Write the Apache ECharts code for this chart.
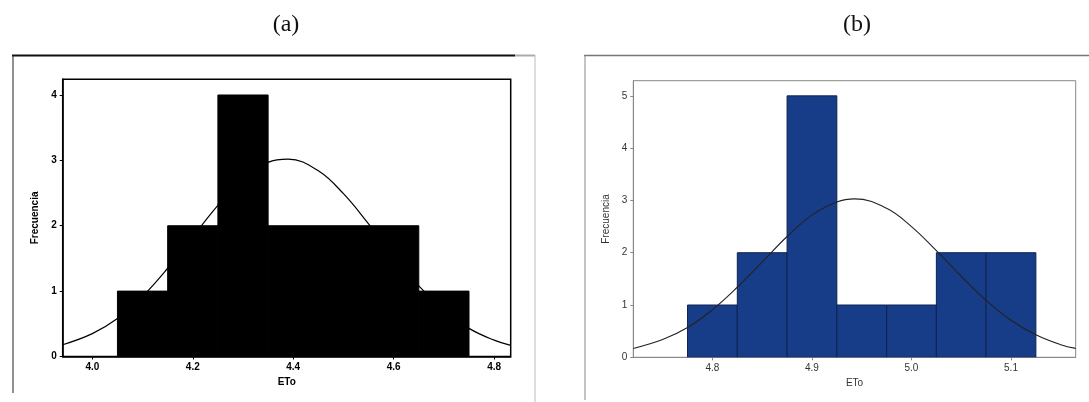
<!DOCTYPE html>
<html><head><meta charset="utf-8">
<script src="https://cdn.jsdelivr.net/npm/echarts@6/dist/echarts.min.js"></script>
<style>html,body{margin:0;padding:0;background:#fff}#c{width:1089px;height:402px}</style>
</head><body><div id="c"></div>
<script>
// ---- Panel (a) data ----
const binEdgesA = [4.05, 4.15, 4.25, 4.35, 4.45, 4.55, 4.65, 4.75];
const countsA   = [1, 2, 4, 2, 2, 2, 1];
const curveAx   = [3.941, 4.00, 4.05, 4.10, 4.15, 4.20, 4.25, 4.30, 4.35, 4.39, 4.45, 4.50, 4.55, 4.60, 4.65, 4.70, 4.75, 4.80, 4.833];
const curveAy   = [0.18, 0.35, 0.58, 0.92, 1.35, 1.83, 2.31, 2.72, 2.97, 3.02, 2.84, 2.49, 2.03, 1.54, 1.08, 0.71, 0.43, 0.25, 0.17];
const xTicksA   = [4.0, 4.2, 4.4, 4.6, 4.8];
const yTicksA   = [0, 1, 2, 3, 4];
// ---- Panel (b) data ----
const binEdgesB = [4.775, 4.825, 4.875, 4.925, 4.975, 5.025, 5.075, 5.125];
const countsB   = [1, 2, 5, 1, 1, 2, 2];
const curveBx   = [4.7205, 4.75, 4.775, 4.80, 4.825, 4.85, 4.875, 4.90, 4.925, 4.943, 4.975, 5.00, 5.025, 5.05, 5.075, 5.10, 5.125, 5.15, 5.165];
const curveBy   = [0.17, 0.34, 0.57, 0.91, 1.34, 1.82, 2.31, 2.72, 2.97, 3.03, 2.85, 2.50, 2.04, 1.55, 1.09, 0.71, 0.43, 0.24, 0.17];
const xTicksB   = [4.8, 4.9, 5.0, 5.1];
const yTicksB   = [0, 1, 2, 3, 4, 5];
const titles    = ['(a)', '(b)'];
const xName = 'ETo', yName = 'Frecuencia';

const bins = (edges, counts) => counts.map((c, i) => [edges[i], edges[i + 1], c]);
const pts = (xs, ys) => xs.map((x, i) => [x, ys[i]]);

function histItem(fill, stroke) {
  return function (params, api) {
    const p0 = api.coord([api.value(0), 0]);
    const p1 = api.coord([api.value(1), api.value(2)]);
    return {
      type: 'rect',
      shape: { x: p0[0], y: p1[1], width: p1[0] - p0[0], height: p0[1] - p1[1] },
      style: { fill: fill, stroke: stroke, lineWidth: 1 }
    };
  };
}

const fontA = { fontFamily: 'Liberation Sans', fontSize: 10, fontWeight: 'bold', color: '#000' };
const fontB = { fontFamily: 'Liberation Sans', fontSize: 10, color: '#333' };

const chart = echarts.init(document.getElementById('c'), null, { renderer: 'canvas' });
chart.setOption({
  animation: false,
  backgroundColor: '#fff',
  title: [
    { text: titles[0], left: 281, top: 8, textAlign: 'center',
      textStyle: { fontFamily: 'Liberation Serif', fontSize: 24, fontWeight: 'normal', color: '#111' } },
    { text: titles[1], left: 852, top: 8, textAlign: 'center',
      textStyle: { fontFamily: 'Liberation Serif', fontSize: 24, fontWeight: 'normal', color: '#111' } }
  ],
  grid: [
    { left: 62.7, top: 79.3, width: 448, height: 277.2, show: true, borderColor: '#000', borderWidth: 1.5, backgroundColor: 'transparent' },
    { left: 633.3, top: 80.7, width: 442.4, height: 276.6, show: true, borderColor: '#888', borderWidth: 1, backgroundColor: 'transparent' }
  ],
  xAxis: [
    { gridIndex: 0, type: 'value', min: 3.941, max: 4.833,
      name: xName, nameLocation: 'middle', nameGap: 20, nameTextStyle: fontA,
      axisLine: { show: true, lineStyle: { color: '#000', width: 1.5 } },
      axisTick: { show: true, length: 3, customValues: xTicksA, lineStyle: { color: '#000' } },
      axisLabel: Object.assign({ customValues: xTicksA, margin: 6, formatter: v => v.toFixed(1) }, fontA),
      splitLine: { show: false } },
    { gridIndex: 1, type: 'value', min: 4.7205, max: 5.165,
      name: xName, nameLocation: 'middle', nameGap: 21, nameTextStyle: fontB,
      axisLine: { show: true, lineStyle: { color: '#888', width: 1 } },
      axisTick: { show: true, length: 3, customValues: xTicksB, lineStyle: { color: '#888' } },
      axisLabel: Object.assign({ customValues: xTicksB, margin: 6, formatter: v => v.toFixed(1) }, fontB),
      splitLine: { show: false } }
  ],
  yAxis: [
    { gridIndex: 0, type: 'value', min: 0, max: 4.24,
      name: yName, nameLocation: 'middle', nameGap: 22, nameRotate: 90, nameTextStyle: fontA,
      axisLine: { show: true, lineStyle: { color: '#000', width: 1.5 } },
      axisTick: { show: true, length: 3, customValues: yTicksA, lineStyle: { color: '#000' } },
      axisLabel: Object.assign({ customValues: yTicksA, margin: 6 }, fontA),
      splitLine: { show: false } },
    { gridIndex: 1, type: 'value', min: 0, max: 5.29,
      name: yName, nameLocation: 'middle', nameGap: 22, nameRotate: 90, nameTextStyle: fontB,
      axisLine: { show: true, lineStyle: { color: '#888', width: 1 } },
      axisTick: { show: true, length: 3, customValues: yTicksB, lineStyle: { color: '#888' } },
      axisLabel: Object.assign({ customValues: yTicksB, margin: 6 }, fontB),
      splitLine: { show: false } }
  ],
  series: [
    { type: 'custom', xAxisIndex: 0, yAxisIndex: 0, data: bins(binEdgesA, countsA),
      renderItem: histItem('#000', '#000'), z: 2, clip: true },
    { type: 'line', xAxisIndex: 0, yAxisIndex: 0, data: pts(curveAx, curveAy), smooth: 0.4,
      symbol: 'none', lineStyle: { color: '#000', width: 1.2 }, z: 3 },
    { type: 'custom', xAxisIndex: 1, yAxisIndex: 1, data: bins(binEdgesB, countsB),
      renderItem: histItem('#183d88', '#0e2250'), z: 2, clip: true },
    { type: 'line', xAxisIndex: 1, yAxisIndex: 1, data: pts(curveBx, curveBy), smooth: 0.4,
      symbol: 'none', lineStyle: { color: '#222', width: 1.1 }, z: 3 }
  ],
  graphic: [
    { type: 'line', shape: { x1: 12, y1: 55.5, x2: 515, y2: 55.5 }, style: { stroke: '#111', lineWidth: 2 } },
    { type: 'line', shape: { x1: 515, y1: 55.5, x2: 535, y2: 55.5 }, style: { stroke: '#aaa', lineWidth: 2 } },
    { type: 'line', shape: { x1: 13, y1: 55, x2: 13, y2: 393 }, style: { stroke: '#222', lineWidth: 1 } },
    { type: 'line', shape: { x1: 535, y1: 55, x2: 535, y2: 402 }, style: { stroke: '#bbb', lineWidth: 1 } },
    { type: 'line', shape: { x1: 584, y1: 55.5, x2: 1089, y2: 55.5 }, style: { stroke: '#777', lineWidth: 1.5 } },
    { type: 'line', shape: { x1: 585, y1: 55, x2: 585, y2: 400 }, style: { stroke: '#888', lineWidth: 1 } }
  ]
});
</script></body></html>
